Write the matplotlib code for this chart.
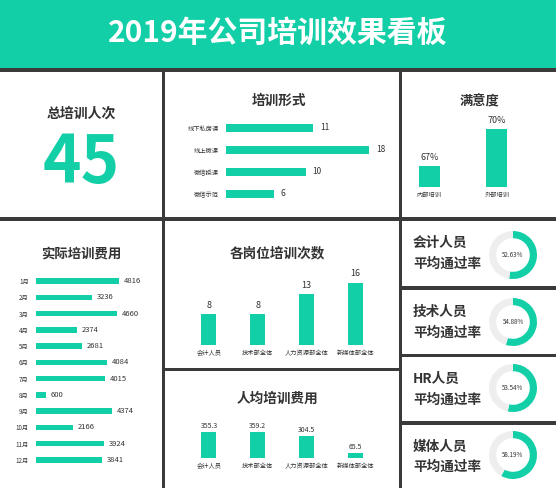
import matplotlib
matplotlib.use("Agg")
import matplotlib.pyplot as plt

plt.rcParams['font.family'] = ['Noto Sans CJK SC', 'DejaVu Sans']

# ---------------- data ----------------
title = "2019年公司培训效果看板"
total_label = "总培训人次"
total_value = 45

form_title = "培训形式"
form_cats = ["线下私房课", "线上微课", "微信授课", "微信示范"]
form_vals = [11, 18, 10, 6]

sat_title = "满意度"
sat_cats = ["内部培训", "外部培训"]
sat_vals = [67, 70]

cost_title = "实际培训费用"
months = ["1月", "2月", "3月", "4月", "5月", "6月", "7月", "8月", "9月", "10月", "11月", "12月"]
cost_vals = [4816, 3236, 4660, 2374, 2681, 4084, 4015, 600, 4374, 2166, 3924, 3841]

post_title = "各岗位培训次数"
post_cats = ["会计人员", "技术部全体", "人力资源部全体", "新媒体部全体"]
post_vals = [8, 8, 13, 16]

avg_title = "人均培训费用"
avg_cats = ["会计人员", "技术部全体", "人力资源部全体", "新媒体部全体"]
avg_vals = [355.3, 359.2, 304.5, 65.5]

pass_names = ["会计人员", "技术人员", "HR人员", "媒体人员"]
pass_rates = [52.63, 54.88, 53.54, 58.19]

# ---------------- style ----------------
GREEN = "#12cfa8"
DARK = "#3a3a3a"
TXT = "#333333"
RING = "#eeeeee"
W, H = 556, 488

fig = plt.figure(figsize=(W / 100, H / 100), dpi=100, facecolor=DARK)


def box(x0, y0, x1, y1):
    return [x0 / W, 1 - y1 / H, (x1 - x0) / W, (y1 - y0) / H]


def panel(x0, y0, x1, y1, color="white"):
    ax = fig.add_axes(box(x0, y0, x1, y1))
    ax.set_facecolor(color)
    ax.set_xticks([]); ax.set_yticks([])
    for s in ax.spines.values():
        s.set_visible(False)
    return ax


def clean(ax):
    for s in ax.spines.values():
        s.set_visible(False)
    ax.tick_params(length=0)
    ax.set_facecolor("none")


# title banner
tb = panel(0, 0, W, 68, GREEN)
tb.text(0.5, 0.52, title, transform=tb.transAxes, ha="center", va="center",
        color="white", fontsize=21.5, fontweight="bold")

# panel A
pa = panel(0, 72, 162, 217)
pa.text(0.5, 0.71, total_label, transform=pa.transAxes, ha="center", va="center",
        color=TXT, fontsize=10, fontweight="bold")
pa.text(0.5, 0.37, str(total_value), transform=pa.transAxes, ha="center", va="center",
        color=GREEN, fontsize=47, fontweight="bold")

# panel B
pb = panel(165, 72, 399, 217)
pb.text(0.485, 0.8, form_title, transform=pb.transAxes, ha="center", va="center",
        color=TXT, fontsize=9.8, fontweight="bold")
ab = fig.add_axes(box(226, 117, 385, 205))
ab.barh(range(len(form_vals)), form_vals, height=0.32, color=GREEN)
ab.set_xlim(0, 20)
ab.set_ylim(len(form_vals) - 0.5, -0.5)
ab.set_yticks(range(len(form_cats)))
ab.set_yticklabels(form_cats, fontsize=4.5, color=TXT)
ab.set_xticks([])
ab.tick_params(axis="y", pad=5)
clean(ab)
for i, v in enumerate(form_vals):
    ab.annotate(str(v), (v, i), xytext=(5, 0), textcoords="offset points",
                ha="left", va="center", fontsize=6, color=TXT)

# panel C
pc = panel(402, 72, W, 217)
pc.text(0.5, 0.8, sat_title, transform=pc.transAxes, ha="center", va="center",
        color=TXT, fontsize=9.5, fontweight="bold")
ac = fig.add_axes(box(395.5, 120, 530.5, 187))
ac.bar(range(len(sat_vals)), sat_vals, width=0.31, color=GREEN)
ac.set_xlim(-0.5, 1.5)
ac.set_ylim(65.3, 70.75)
ac.set_yticks([])
ac.set_xticks(range(len(sat_cats)))
ac.set_xticklabels(sat_cats, fontsize=4.5, color=TXT)
ac.tick_params(axis="x", pad=3)
clean(ac)
for i, v in enumerate(sat_vals):
    ac.annotate(f"{v}%", (i, v), xytext=(0, 3), textcoords="offset points",
                ha="center", va="bottom", fontsize=6.5, color=TXT)

# panel D
pd_ = panel(0, 221, 162, H)
pd_.text(0.5, 0.877, cost_title, transform=pd_.transAxes, ha="center", va="center",
         color=TXT, fontsize=9.6, fontweight="bold")
ad = fig.add_axes(box(35.7, 272.9, 148.5, 468.1))
ad.barh(range(len(cost_vals)), cost_vals, height=0.33, color=GREEN)
ad.set_xlim(0, 6500)
ad.set_ylim(len(cost_vals) - 0.5, -0.5)
ad.set_yticks(range(len(months)))
ad.set_yticklabels(months, fontsize=4.5, color=TXT)
ad.set_xticks([])
ad.tick_params(axis="y", pad=5)
clean(ad)
for i, v in enumerate(cost_vals):
    ad.annotate(str(v), (v, i), xytext=(3.5, 0), textcoords="offset points",
                ha="left", va="center", fontsize=5.5, color=TXT)

# panel E
pe = panel(165, 221, 399, 368)
pe.text(0.48, 0.78, post_title, transform=pe.transAxes, ha="center", va="center",
        color=TXT, fontsize=9.8, fontweight="bold")
ae = fig.add_axes(box(184.6, 267, 379.4, 345))
ae.bar(range(len(post_vals)), post_vals, width=0.31, color=GREEN)
ae.set_xlim(-0.5, len(post_vals) - 0.5)
ae.set_ylim(0, 20)
ae.set_yticks([])
ae.set_xticks(range(len(post_cats)))
ae.set_xticklabels(post_cats, fontsize=4.5, color=TXT)
ae.tick_params(axis="x", pad=3)
clean(ae)
for i, v in enumerate(post_vals):
    ae.annotate(str(v), (i, v), xytext=(0, 3), textcoords="offset points",
                ha="center", va="bottom", fontsize=6.5, color=TXT)

# panel F
pf = panel(165, 371, 399, H)
pf.text(0.48, 0.76, avg_title, transform=pf.transAxes, ha="center", va="center",
        color=TXT, fontsize=9.8, fontweight="bold")
af = fig.add_axes(box(184.6, 423, 379.4, 458))
af.bar(range(len(avg_vals)), avg_vals, width=0.31, color=GREEN)
af.set_xlim(-0.5, len(avg_vals) - 0.5)
af.set_ylim(0, 480)
af.set_yticks([])
af.set_xticks(range(len(avg_cats)))
af.set_xticklabels(avg_cats, fontsize=4.5, color=TXT)
af.tick_params(axis="x", pad=3)
clean(af)
for i, v in enumerate(avg_vals):
    af.annotate(f"{v}", (i, v), xytext=(0, 1.5), textcoords="offset points",
                ha="center", va="bottom", fontsize=5, color=TXT)

# donut panels
rows = [(221, 286), (290, 354), (357, 421), (425, H)]
centers = [255, 322, 388, 455]
for (y0, y1), cy, name, rate in zip(rows, centers, pass_names, pass_rates):
    pg = panel(402, y0, W, y1)
    pg.text(11 / 154, 0.66, name, transform=pg.transAxes, ha="left", va="center",
            color=TXT, fontsize=9.8, fontweight="bold")
    pg.text(11 / 154, 0.34, "平均通过率", transform=pg.transAxes, ha="left", va="center",
            color=TXT, fontsize=9.8, fontweight="bold")
    r = 24
    ag = fig.add_axes(box(513 - r, cy - r, 513 + r, cy + r))
    ag.pie([rate, 100 - rate], colors=[GREEN, RING], startangle=90,
           counterclock=False, radius=1, wedgeprops=dict(width=0.3, linewidth=0))
    ag.set_xlim(-1, 1); ag.set_ylim(-1, 1)
    ag.set_aspect("equal")
    ag.axis("off")
    ag.text(0, 0, f"{rate:.2f}%", ha="center", va="center", fontsize=4.5, color=TXT)

fig.savefig("out.png", dpi=100, facecolor=DARK)
